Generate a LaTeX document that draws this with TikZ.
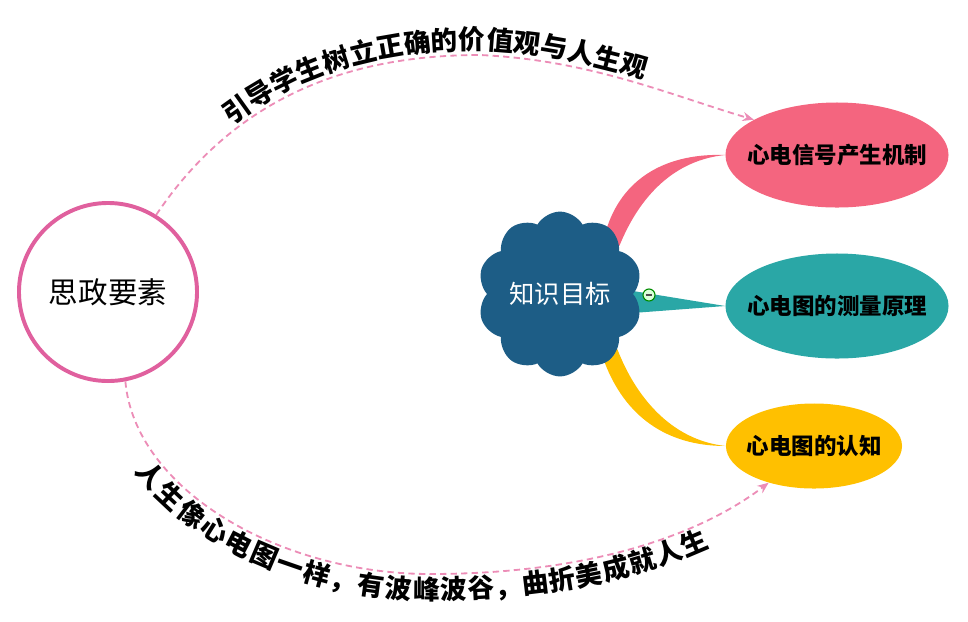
\documentclass[tikz,border=0pt]{standalone}
\usepackage{fontspec}
\newfontfamily\cjk{Noto Sans CJK SC}
\usepackage{tikz}
\usetikzlibrary{arrows.meta,shapes.geometric,shapes.symbols,decorations.text,calc}
\definecolor{ring}{HTML}{E0609E}
\definecolor{navy}{HTML}{1D5D86}
\definecolor{rose}{HTML}{F4657F}
\definecolor{tealg}{HTML}{2AA7A6}
\definecolor{amber}{HTML}{FFC000}
\definecolor{hint}{HTML}{EC8DB7}
\newcommand\arcfont{\cjk\bfseries\fontsize{19}{22}\selectfont}
\pgfdeclarelayer{back}
\pgfsetlayers{back,main}

\begin{document}
\begin{tikzpicture}[x=0.025cm,y=-0.025cm,>={Stealth[length=8pt,width=6.5pt]},
    goal/.style={ellipse,inner sep=0pt,font=\cjk\bfseries\fontsize{16}{18}\selectfont},
    link/.style={->,hint,line width=1.3pt,dash pattern=on 4.5pt off 3pt}]
      \useasboundingbox (0,0) rectangle (968,621);

      % left circle and the cloud
      \node[circle,draw=ring,line width=2.8pt,fill=white,minimum size=4.45cm,inner sep=0pt,
        font=\cjk\fontsize{21}{24}\selectfont] (sz) at (108,292) {思政要素};
      \node[cloud,cloud puffs=10,cloud puff arc=120,aspect=1,fill=navy,text=white,
        minimum width=4.12cm,minimum height=4.12cm,inner sep=0pt,
        font=\cjk\fontsize{18}{20}\selectfont] (zs) at (560,294) {\makebox[0pt]{知识目标}};

      % three goals
      \node[goal,fill=rose,minimum width=5.575cm,minimum height=2.625cm] (g1) at (837,155) {\makebox[0pt]{心电信号产生机制}};
      \node[goal,fill=tealg,minimum width=5.575cm,minimum height=2.625cm] (g2) at (837,306) {\makebox[0pt]{心电图的测量原理}};
      \node[goal,fill=amber,minimum width=4.4cm,minimum height=2.125cm] (g3) at (814,446) {\makebox[0pt]{心电图的认知}};

      % tapered branches behind the cloud
      \begin{pgfonlayer}{back}
        \fill[rose] (zs.center) -- (zs.55) .. controls (625,175) and (670,153) .. (g1.west)
          .. controls (675,160) and (640,195) .. (zs.39) -- cycle;
        \fill[tealg] (zs.center) -- (zs.2) -- (g2.west) -- (zs.-13) -- cycle;
        \fill[amber] (zs.center) -- (zs.-57) .. controls (625,415) and (665,446) .. (g3.west)
          .. controls (670,440) and (635,395) .. (zs.-44) -- cycle;
      \end{pgfonlayer}

      % fold button
      \node[circle,draw=green!55!black,fill=green!15,line width=0.8pt,minimum size=0.3cm,inner sep=0pt] (fold) at (649,295) {};
      \draw[line width=0.9pt,black!70,shorten <=2.4pt,shorten >=2.4pt] (fold.west) -- (fold.east);

      % dashed links with text along them
      \coordinate (topmid) at (480,55);
      \coordinate (botmid) at (430,574);
      \draw[link] (sz.58) .. controls (240,90) and (360,55) .. (topmid)
        .. controls (590,60) and (670,95) .. (g1.157);
      \path[decorate,decoration={text along path,raise=4pt,text align={left indent=2.9cm},
          text={|\arcfont|引导学生树立正确的价值观与人生观}}]
        (sz.58) .. controls (240,90) and (360,55) .. (topmid)
        .. controls (590,60) and (670,95) .. (g1.157);
      \draw[link] (sz.-79) .. controls (135,490) and (280,574) .. (botmid)
        .. controls (590,574) and (700,535) .. (g3.-141);
      \path[decorate,decoration={text along path,raise=-18pt,text align={left indent=2.0cm},
          text={|\arcfont|人生像心电图一样，有波峰波谷，曲折美成就人生}}]
        (sz.-79) .. controls (135,490) and (280,574) .. (botmid)
        .. controls (590,574) and (700,535) .. (g3.-141);
\end{tikzpicture}
\end{document}
